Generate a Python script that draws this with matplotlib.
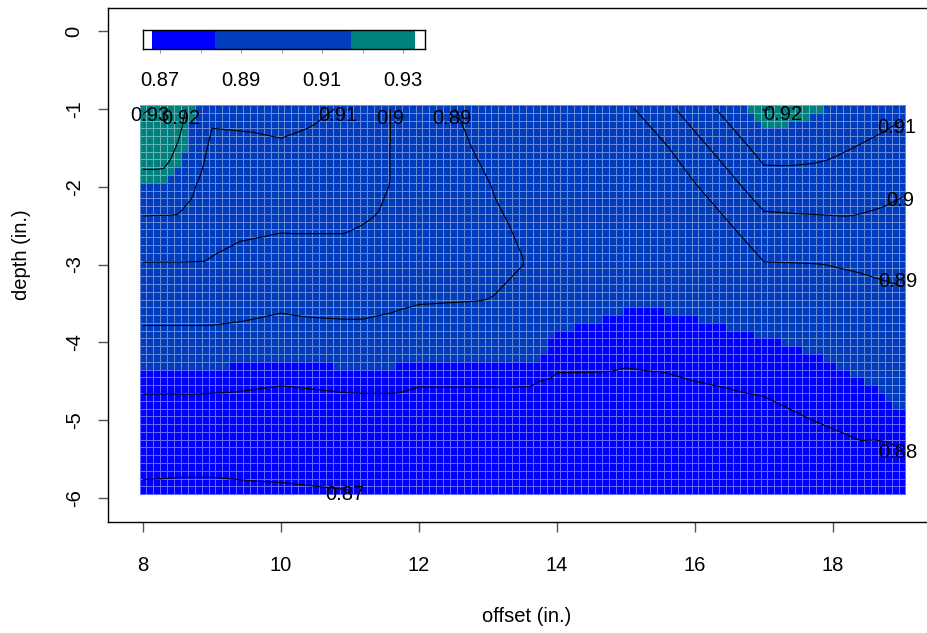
import numpy as np
import matplotlib
matplotlib.use("Agg")
import matplotlib.pyplot as plt
import matplotlib.tri as mtri
from matplotlib.colors import ListedColormap, BoundaryNorm

plt.rcParams['font.family'] = ['Liberation Sans', 'DejaVu Sans']
plt.rcParams['axes.unicode_minus'] = False
FS = 14.5

offset_nodes = [8.0, 8.3, 8.6, 9.0, 10.0, 10.9, 11.6, 12.0, 13.1, 13.6, 14.0,
                15.0, 15.5, 16.0, 16.5, 17.0, 17.7, 18.4, 19.0]
depth_nodes = [-1.0, -1.5, -2.0, -2.5, -3.0, -3.5, -4.0, -4.5, -5.0, -5.5, -5.9]

val_d10 = [0.9310, 0.9280, 0.9205, 0.9115, 0.9131, 0.9095, 0.8998, 0.8935, 0.8862, 0.8868, 0.8865,
           0.8880, 0.8962, 0.9048, 0.9134, 0.9203, 0.9180, 0.9148, 0.9115]
val_d15 = [0.9237, 0.9233, 0.9175, 0.9085, 0.9090, 0.9066, 0.8998, 0.8950, 0.8878, 0.8873, 0.8868,
           0.8880, 0.8879, 0.8966, 0.9050, 0.9136, 0.9128, 0.9095, 0.9065]
val_d20 = [0.9170, 0.9171, 0.9130, 0.9056, 0.9050, 0.9037, 0.8998, 0.8962, 0.8897, 0.8880, 0.8872,
           0.8875, 0.8880, 0.8893, 0.8969, 0.9055, 0.9059, 0.9041, 0.9014]
val_d25 = [0.9077, 0.9075, 0.9073, 0.9026, 0.9009, 0.9009, 0.8985, 0.8955, 0.8908, 0.8889, 0.8876,
           0.8865, 0.8873, 0.8885, 0.8895, 0.8968, 0.8976, 0.8982, 0.8964]
val_d30 = [0.8995, 0.8995, 0.8995, 0.8993, 0.8962, 0.8966, 0.8947, 0.8935, 0.8910, 0.8898, 0.8876,
           0.8855, 0.8858, 0.8862, 0.8875, 0.8895, 0.8898, 0.8906, 0.8915]
val_d35 = [0.8934, 0.8934, 0.8934, 0.8933, 0.8913, 0.8917, 0.8908, 0.8901, 0.8897, 0.8885, 0.8858,
           0.8841, 0.8840, 0.8844, 0.8852, 0.8863, 0.8870, 0.8879, 0.8888]
val_d40 = [0.8874, 0.8874, 0.8874, 0.8874, 0.8861, 0.8875, 0.8875, 0.8865, 0.8865, 0.8865, 0.8825,
           0.8815, 0.8815, 0.8824, 0.8826, 0.8833, 0.8842, 0.8856, 0.8870]
val_d45 = [0.8816, 0.8816, 0.8817, 0.8815, 0.8805, 0.8813, 0.8813, 0.8805, 0.8805, 0.8804, 0.8793,
           0.8792, 0.8795, 0.8800, 0.8805, 0.8809, 0.8820, 0.8834, 0.8852]
val_d50 = [0.8767, 0.8767, 0.8766, 0.8766, 0.8763, 0.8768, 0.8771, 0.8770, 0.8772, 0.8775, 0.8772,
           0.8772, 0.8773, 0.8775, 0.8779, 0.8786, 0.8800, 0.8812, 0.8832]
val_d55 = [0.8723, 0.8722, 0.8721, 0.8721, 0.8724, 0.8729, 0.8734, 0.8735, 0.8740, 0.8745, 0.8752,
           0.8753, 0.8752, 0.8750, 0.8756, 0.8763, 0.8775, 0.8789, 0.8788]
val_d59 = [0.8688, 0.8687, 0.8685, 0.8685, 0.8692, 0.8699, 0.8705, 0.8707, 0.8712, 0.8718, 0.8735,
           0.8738, 0.8735, 0.8730, 0.8737, 0.8745, 0.8755, 0.8770, 0.8753]

# colour classes of the image and of the legend strip
color_breaks = [0.868, 0.8836, 0.9172, 0.933]
class_colors = ['#0000FF', '#003CBC', '#00807E']
legend_range = [0.8658, 0.93543]

contour_levels = [0.87, 0.88, 0.89, 0.90, 0.91, 0.92, 0.93]
label_text = ['0.93', '0.92', '0.91', '0.9', '0.89', '0.92', '0.91', '0.9', '0.89', '0.88', '0.87']
label_x = [8.10, 8.55, 10.83, 11.58, 12.48, 17.28, 18.93, 18.97, 18.94, 18.94, 10.93]
label_y = [-1.09, -1.12, -1.08, -1.12, -1.12, -1.07, -1.24, -2.18, -3.22, -5.41, -5.96]

Z = np.array([val_d10, val_d15, val_d20, val_d25, val_d30, val_d35,
              val_d40, val_d45, val_d50, val_d55, val_d59])
NX, NY = np.meshgrid(offset_nodes, depth_nodes)

# split every node cell along its top-left / bottom-right diagonal
ncol = len(offset_nodes)
triangles = []
for i in range(len(depth_nodes) - 1):
    for j in range(ncol - 1):
        a = i * ncol + j
        b = a + 1
        c = a + ncol
        d = c + 1
        triangles.append([a, b, d])
        triangles.append([a, d, c])
tri = mtri.Triangulation(NX.ravel(), NY.ravel(), triangles)
interp = mtri.LinearTriInterpolator(tri, Z.ravel())

# 0.1 in. image grid
xf = np.linspace(8.0, 19.0, 111)
yf = np.linspace(-1.0, -5.9, 50)
XF, YF = np.meshgrid(xf, yf)
ZF = np.ma.filled(interp(XF, YF), np.nan)

cmap = ListedColormap(class_colors)
cmap.set_under('white')
cmap.set_over('white')
norm = BoundaryNorm(color_breaks, cmap.N)

fig = plt.figure(figsize=(9.27, 6.33), dpi=100)
W, H = 927, 633
ax = fig.add_axes([108 / W, 1 - 522 / H, (960 - 108) / W, (522 - 8) / H])

ax.pcolormesh(XF, YF, ZF, cmap=cmap, norm=norm, shading='nearest',
              edgecolors=(1, 1, 1, 0.4), linewidth=0.5)
ax.contour(XF, YF, ZF, levels=contour_levels, colors='black', linewidths=0.8)
for t, x, y in zip(label_text, label_x, label_y):
    ax.text(x, y, t, fontsize=FS, ha='center', va='center', zorder=5)

ax.set_xlim(7.493, 7.493 + 852 / 69)
ax.set_ylim(-6.308, 0.2955)
ax.set_xticks([8, 10, 12, 14, 16, 18])
ax.set_yticks([0, -1, -2, -3, -4, -5, -6])
ax.tick_params(direction='out', length=7.5, width=1, color='#555555', labelsize=FS)
ax.tick_params(axis='x', pad=17)
ax.tick_params(axis='y', pad=10, labelrotation=90)
for lab in ax.get_yticklabels():
    lab.set_va('center')
for s in ax.spines.values():
    s.set_linewidth(1)

fig.text(527 / W, 1 - 617 / H, 'offset (in.)', fontsize=FS, ha='center', va='center')
fig.text(22 / W, 1 - 255 / H, 'depth (in.)', fontsize=FS, ha='center', va='center', rotation=90)

# legend strip
lax = fig.add_axes([143 / W, 1 - 49 / H, 282 / W, 19 / H])
for lo, hi, c in zip(color_breaks[:-1], color_breaks[1:], class_colors):
    lax.barh(0.5, hi - lo, left=lo, height=1, color=c, edgecolor='none')
lax.set_xlim(legend_range)
lax.set_ylim(0, 1)
lax.set_yticks([])
lax.set_xticks([0.87, 0.89, 0.91, 0.93])
lax.set_xticklabels(['0.87', '0.89', '0.91', '0.93'])
lax.set_xticks([0.88, 0.90, 0.92], minor=True)
lax.tick_params(axis='x', which='both', direction='out', length=3, color='#999999',
                labelsize=FS, pad=13)
for s in lax.spines.values():
    s.set_linewidth(1)

fig.savefig('out.png', dpi=100)
